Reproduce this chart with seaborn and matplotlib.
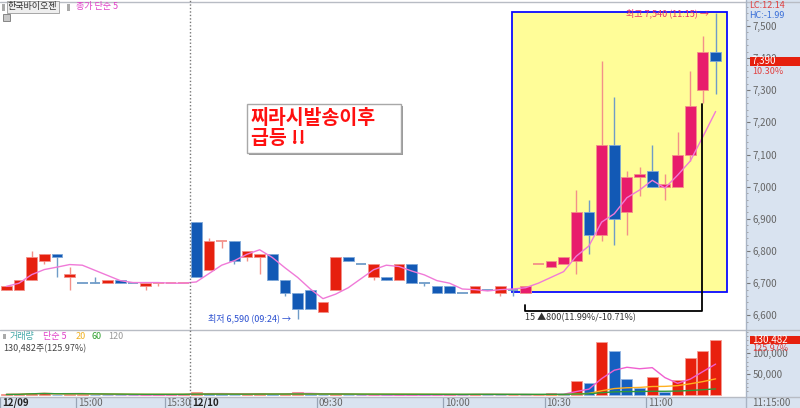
import numpy as np
import pandas as pd
import matplotlib
matplotlib.use("Agg")
import matplotlib.pyplot as plt
import seaborn as sns
from matplotlib.patches import Rectangle
from matplotlib.lines import Line2D
from matplotlib.ticker import FuncFormatter, MultipleLocator, FixedLocator
from matplotlib.transforms import blended_transform_factory

# 3-minute candles: 12/09 afternoon, then 12/10 morning (index 15 = 09:00)
opens = [6680, 6680, 6710, 6770, 6790, 6720, 6700, 6700, 6700, 6710, 6700, 6690, 6700, 6700, 6700,
         6890, 6740, 6830, 6830, 6780, 6780, 6790, 6710, 6670, 6680, 6610, 6680, 6780, 6760, 6720,
         6720, 6710, 6760, 6700, 6690, 6690, 6670, 6670, 6680, 6670, 6680,
         6670, 6760, 6750, 6760, 6770, 6920, 6850, 7130, 6920, 7030, 7050, 7000, 7000, 7100, 7300, 7420]
highs = [6690, 6710, 6800, 6790, 6790, 6750, 6700, 6720, 6710, 6710, 6700, 6700, 6700, 6700, 6700,
         6890, 6840, 6830, 6830, 6800, 6790, 6790, 6710, 6670, 6680, 6640, 6780, 6780, 6760, 6760,
         6720, 6760, 6760, 6700, 6690, 6690, 6670, 6690, 6680, 6690, 6680,
         6690, 6760, 6770, 6780, 6990, 6960, 7390, 7280, 7050, 7060, 7130, 7040, 7170, 7360, 7470, 7540]
lows = [6680, 6680, 6710, 6760, 6720, 6680, 6700, 6700, 6700, 6700, 6700, 6680, 6690, 6700, 6700,
        6720, 6740, 6810, 6760, 6770, 6730, 6710, 6660, 6590, 6620, 6610, 6680, 6770, 6760, 6710,
        6710, 6710, 6700, 6690, 6670, 6670, 6670, 6670, 6680, 6660, 6660,
        6670, 6760, 6750, 6760, 6730, 6790, 6830, 6820, 6850, 6970, 7000, 6960, 7000, 7080, 7260, 7290]
closes = [6690, 6710, 6780, 6790, 6780, 6730, 6700, 6700, 6710, 6700, 6700, 6700, 6700, 6700, 6700,
          6720, 6830, 6830, 6770, 6800, 6790, 6710, 6670, 6620, 6620, 6640, 6780, 6770, 6760, 6760,
          6710, 6760, 6700, 6700, 6670, 6670, 6670, 6690, 6680, 6690, 6680,
          6690, 6760, 6770, 6780, 6920, 6850, 7130, 6900, 7030, 7040, 7000, 7010, 7100, 7250, 7420, 7390]
volumes = [2500, 3000, 6500, 7000, 1500, 4000, 4200, 1500, 1200, 1000, 900, 1100, 2500, 3000, 3400,
           8000, 5000, 3000, 1500, 2500, 7000, 3000, 4500, 7500, 3000, 2000, 2500, 1200, 800, 900,
           700, 800, 1500, 1000, 1800, 3000, 1500, 4500, 2000, 1000, 2200,
           1500, 2000, 5000, 4000, 34000, 30000, 126000, 104000, 38800, 16600, 42800, 8600, 37000,
           88000, 106000, 130482]

# time axis labels: (candle index, label, is_date)
time_ticks = [(0, "12/09", True), (6, "15:00", False), (13, "15:30", False), (15, "12/10", True),
              (25, "09:30", False), (35, "10:00", False), (43, "10:30", False), (51, "11:00", False)]

RED = "#e6200e"
MAG = "#e81c6b"
BLUE = "#1259b5"
RED_W = "#f39089"
BLUE_W = "#6f9cc8"
AXIS_BG = "#d9e3f0"
BOX_START = 41

sns.set_theme(style="white")
plt.rcParams["font.family"] = ["Noto Sans CJK KR", "DejaVu Sans"]
plt.rcParams["axes.unicode_minus"] = False

df = pd.DataFrame(dict(o=opens, h=highs, l=lows, c=closes, v=volumes))
n = len(df)
df["i"] = np.arange(n)
df["ma5"] = df["c"].rolling(5, min_periods=1).mean()
df["vma5"] = df["v"].rolling(5, min_periods=1).mean()
df["vma20"] = df["v"].rolling(20, min_periods=1).mean()
df["vma60"] = df["v"].rolling(60, min_periods=1).mean()

dirs = []
for k in range(n):
    o, c = opens[k], closes[k]
    if c > o:
        d = "up"
    elif c < o:
        d = "down"
    elif k > 0 and c > closes[k - 1]:
        d = "up"
    elif k > 0 and c < closes[k - 1]:
        d = "down"
    else:
        d = dirs[-1] if dirs else "up"
    dirs.append(d)
df["dir"] = dirs
df["vdir"] = ["up"] + ["up" if volumes[k] >= volumes[k - 1] else "down" for k in range(1, n)]

body_cols = [(MAG if k >= BOX_START else RED) if d == "up" else BLUE for k, d in enumerate(dirs)]
wick_cols = [RED_W if d == "up" else BLUE_W for d in dirs]

W, H = 800, 408
fx = lambda px: px / W
fy = lambda py: 1 - py / H

fig = plt.figure(figsize=(8, 4.08), dpi=100)
fig.patch.set_facecolor("white")
fig.add_artist(Rectangle((fx(746), 0), 1 - fx(746), 1, transform=fig.transFigure,
                         fc=AXIS_BG, ec="none", zorder=-5))
fig.add_artist(Rectangle((0, 0), 1, fy(397), transform=fig.transFigure,
                         fc=AXIS_BG, ec="none", zorder=-5))

XLIM = (-0.5, 58.4)

# ---------------- price panel ----------------
ax = fig.add_axes([0, fy(327), fx(746), fy(3) - fy(327)])
ax.set_xlim(*XLIM)
ax.set_ylim(6563.8, 7571.5)

ax.add_patch(Rectangle((39.9, 6672.6), 17.0, 871, fc="#fffd98", ec="#0a0aff", lw=1.3, zorder=1))

ax.vlines(df["i"], df["l"], df["h"], colors=wick_cols, lw=1, zorder=2)
body = df["c"] != df["o"]
edge = [RED_W if d == "up" else "#7fa8d8" for d in dirs]
ax.bar(df["i"][body], (df["c"] - df["o"]).abs()[body], bottom=df[["o", "c"]].min(axis=1)[body],
       width=0.86, color=np.array(body_cols)[body], edgecolor=np.array(edge)[body], lw=0.6, zorder=3)
doji = ~body
ax.hlines(df["c"][doji], df["i"][doji] - 0.43, df["i"][doji] + 0.43,
          colors=np.array(wick_cols)[doji], lw=1.3, zorder=3)

sns.lineplot(x=df["i"], y=df["ma5"], ax=ax, color="#f07ad8", lw=1, zorder=4)
ax.set_xlabel("")
ax.set_ylabel("")

for s in ax.spines.values():
    s.set_visible(False)
ax.set_xticks([])
ax.yaxis.tick_right()
ax.yaxis.set_major_locator(MultipleLocator(100))
ax.yaxis.set_minor_locator(MultipleLocator(20))
ax.yaxis.set_major_formatter(FuncFormatter(lambda v, p: f"{v:,.0f}"))
ax.tick_params(axis="y", which="major", right=True, direction="out", length=3, width=0.8,
               pad=1.5, labelsize=7, colors="#777", labelcolor="#666")
ax.tick_params(axis="y", which="minor", right=True, direction="out", length=1.5, width=0.6, colors="#999")

# markers and drawings
ax.text(55.5, 7540, "최고 7,540 (11:15) →", ha="right", va="center", fontsize=6.5, color="#e8306a", zorder=6)
ax.text(22.5, 6590, "최저 6,590 (09:24) →", ha="right", va="center", fontsize=6.5, color="#2a4fd0", zorder=6)
ax.plot([40.95, 40.95, 54.96, 54.96], [6632, 6614.5, 6614.5, 7257], color="black", lw=1.3, zorder=5)
ax.text(40.95, 6593, "15 ▲800(11.99%/-10.71%)", ha="left", va="center", fontsize=6.5, color="#333", zorder=6)

# ---------------- volume panel ----------------
axv = fig.add_axes([0, fy(396), fx(746), fy(331) - fy(396)])
sns.barplot(data=df, x="i", y="v", hue="vdir", palette={"up": "#e8200e", "down": "#1560c0"},
            saturation=1, native_scale=True, dodge=False, width=0.86, errorbar=None,
            legend=False, ax=axv, zorder=2)
for p in axv.patches:
    fc = np.array(p.get_facecolor()[:3])
    p.set_edgecolor(tuple(fc * 0.45 + 0.55))
    p.set_linewidth(0.6)
sns.lineplot(x=df["i"], y=df["vma5"], ax=axv, color="#f060d0", lw=1, zorder=4)
sns.lineplot(x=df["i"], y=df["vma20"], ax=axv, color="#ffb020", lw=1, zorder=4)
sns.lineplot(x=df["i"], y=df["vma60"], ax=axv, color="#2f9a3a", lw=1, zorder=4)
axv.set_xlim(*XLIM)
axv.set_ylim(-1180, 152100)
axv.set_xlabel("")
axv.set_ylabel("")
for s in axv.spines.values():
    s.set_visible(False)
axv.set_xticks([])
axv.yaxis.tick_right()
axv.yaxis.set_major_locator(FixedLocator([50000, 100000]))
axv.yaxis.set_minor_locator(FixedLocator(np.arange(10000, 150001, 10000)))
axv.yaxis.set_major_formatter(FuncFormatter(lambda v, p: f"{v:,.0f}"))
axv.tick_params(axis="y", which="major", right=True, direction="out", length=3, width=0.8,
                pad=1.5, labelsize=7, colors="#777", labelcolor="#666")
axv.tick_params(axis="y", which="minor", right=True, direction="out", length=1.5, width=0.6, colors="#999")

# ---------------- time strip ----------------
axt = fig.add_axes([0, 0, fx(746), fy(397)])
axt.set_facecolor("none")
axt.set_xlim(*XLIM)
axt.set_ylim(0, 1)
axt.axis("off")
for idx, lab, is_date in time_ticks:
    axt.axvline(idx - 0.5, color="#98a4b6", lw=0.9)
    axt.text(idx - 0.5 + 0.15, 0.45, lab, ha="left", va="center", fontsize=7,
             color="#222" if is_date else "#666", fontweight="bold" if is_date else "normal")
fig.text(fx(752), fy(402.5), "11:15:00", ha="left", va="center", fontsize=7, color="#666")

# ---------------- frame lines ----------------
for yy in (1.5, 329.5, 397):
    fig.add_artist(Line2D([0, 1], [fy(yy), fy(yy)], transform=fig.transFigure, color="#b8bcc4", lw=1))
fig.add_artist(Line2D([fx(746), fx(746)], [0, 1], transform=fig.transFigure, color="#a9b4c4", lw=1))
fig.add_artist(Line2D([14.5, 14.5], [0, 1], transform=blended_transform_factory(ax.transData, fig.transFigure),
                      color="#777", lw=1, ls=(0, (1, 1.5)), zorder=6))

# ---------------- headers / labels ----------------
fig.add_artist(Rectangle((fx(2), fy(11)), fx(2.5), 7 / H, transform=fig.transFigure, fc="#aaa", ec="none"))
fig.text(fx(8), fy(7), "한국바이오젠", ha="left", va="center", fontsize=6.5, color="#333",
         bbox=dict(boxstyle="square,pad=0.15", fc="#eeeeee", ec="#999", lw=0.6))
fig.add_artist(Rectangle((fx(67), fy(11)), fx(2.5), 7 / H, transform=fig.transFigure, fc="#aaa", ec="none"))
fig.text(fx(76), fy(7), "종가 단순 5", ha="left", va="center", fontsize=6.5, color="#e040c8")
fig.add_artist(Rectangle((fx(3), fy(21)), fx(7), 7 / H, transform=fig.transFigure, fc="#c8c8c8", ec="#777", lw=0.6))

fig.add_artist(Rectangle((fx(3), fy(339)), fx(2.5), 5 / H, transform=fig.transFigure, fc="#aaa", ec="none"))
vx = 10
for txt, col, w in [("거래량", "#3fa6a6", 33), ("단순 5", "#e040c8", 33), ("20", "#f0b020", 16),
                    ("60", "#30a030", 16), ("120", "#999999", 20)]:
    fig.text(fx(vx), fy(336.5), txt, ha="left", va="center", fontsize=6.5, color=col)
    vx += w
fig.text(fx(3), fy(348.5), "130,482주(125.97%)", ha="left", va="center", fontsize=6.5, color="#444")

fig.text(fx(749), fy(6), "LC:12.14", ha="left", va="center", fontsize=6.5, color="#e04040")
fig.text(fx(749), fy(15), "HC:-1.99", ha="left", va="center", fontsize=6.5, color="#3a6fd8")

# current price / volume tags on the right axis
bp = blended_transform_factory(fig.transFigure, ax.transData)
fig.add_artist(Rectangle((fx(750), closes[-1] - 14), 1 - fx(750), 28, transform=bp, fc="#e6200e", ec="none", zorder=5))
fig.text(fx(752), closes[-1], f"{closes[-1]:,}", transform=bp, ha="left", va="center", fontsize=7, color="white", zorder=6)
fig.text(fx(752), closes[-1] - 30, "10.30%", transform=bp, ha="left", va="center", fontsize=6.5, color="#e04040", zorder=6)

bv = blended_transform_factory(fig.transFigure, axv.transData)
fig.add_artist(Rectangle((fx(750), volumes[-1] - 9400), 1 - fx(750), 18800, transform=bv, fc="#e6200e", ec="none", zorder=5))
fig.text(fx(752), volumes[-1], f"{volumes[-1]:,}", transform=bv, ha="left", va="center", fontsize=7, color="white", zorder=6)
fig.text(fx(752), 110800, "125.97%", transform=bv, ha="left", va="center", fontsize=6.5, color="#e04040", zorder=6)

# pasted note
fig.add_artist(Rectangle((fx(249), fy(155)), fx(154), 49 / H, transform=fig.transFigure, fc="#9a9a9a", ec="none", zorder=5))
fig.add_artist(Rectangle((fx(247), fy(153)), fx(154), 49 / H, transform=fig.transFigure, fc="white", ec="#a8a8a8", lw=1, zorder=5))
fig.text(fx(251), fy(128.5), "찌라시발송이후\n급등 !!", ha="left", va="center", fontsize=14, color="#ff1010",
         fontweight="bold", fontstyle="italic", linespacing=1.0, zorder=6)

fig.savefig("out.png", dpi=100)
